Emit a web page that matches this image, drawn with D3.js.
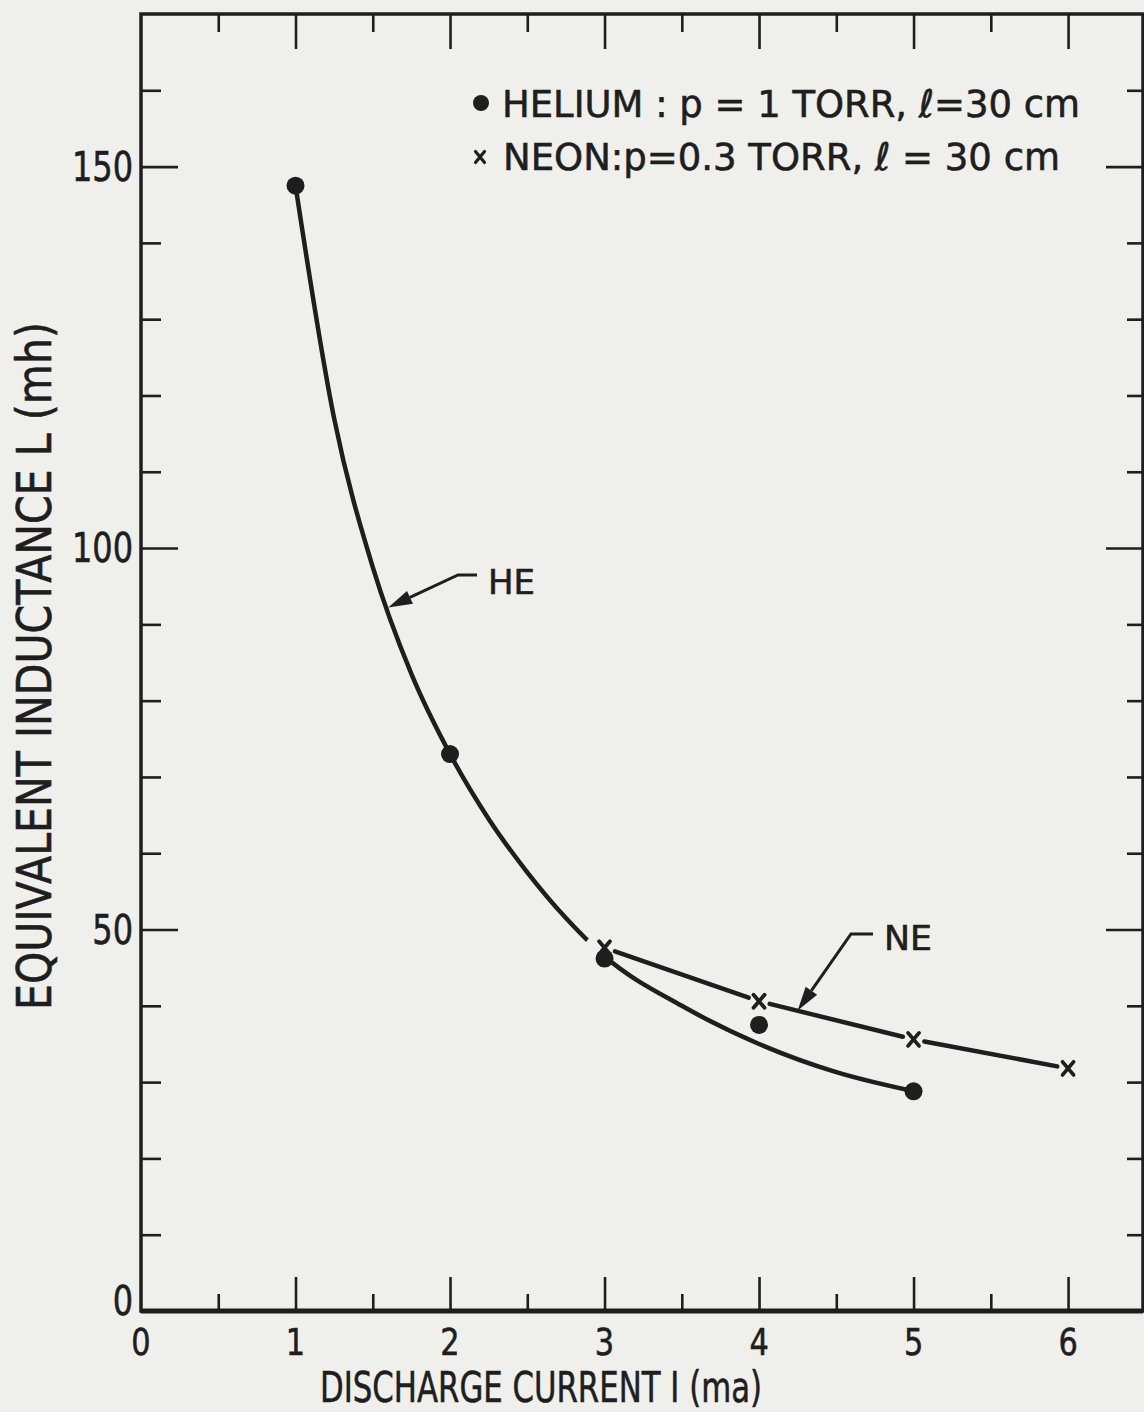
<!DOCTYPE html>
<html>
<head>
<meta charset="utf-8">
<script src="https://cdn.jsdelivr.net/npm/d3@7"></script>
<style>
  html, body { margin: 0; padding: 0; background: #efefec; }
  svg { display: block; }
  text { font-family: "DejaVu Sans", "Noto Sans", sans-serif; fill: #1e1e1e; stroke: #1e1e1e; stroke-width: 0.6px; }
</style>
</head>
<body>
<svg id="chart" width="1144" height="1412"></svg>
<script>
// ---- data -------------------------------------------------------------
const currentTicks = [0, 1, 2, 3, 4, 5, 6];
const currentTickLabels = ["0", "1", "2", "3", "4", "5", "6"];
const inductanceTicks = [0, 50, 100, 150];
const inductanceTickLabels = ["0", "50", "100", "150"];

// measured points (current in mA, inductance in mH)
const heliumCurrent = [1, 2, 3, 4, 5];
const heliumInductance = [147.5, 73, 46.2, 37.5, 28.8];
const neonCurrent = [3, 4, 5, 6];
const neonInductance = [47.6, 40.6, 35.6, 31.8];

// hand-faired helium curve
const heCurveCurrent = [1, 1.25, 1.5, 1.75, 2, 2.25, 2.5, 2.75, 3, 3.5, 4, 4.5, 5];
const heCurveInductance = [147.5, 117, 97.5, 83.5, 73, 64.5, 57.5, 51.5, 46.5, 40, 35, 31.3, 28.8];

// ---- setup ------------------------------------------------------------
const ink = "#1e1e1e";
const paper = "#efefec";
const svg = d3.select("#chart");

const x = d3.scaleLinear().domain([0, 6.485]).range([141, 1143]);
const y = d3.scaleLinear().domain([0, 170]).range([1311, 14]);

// ---- frame ------------------------------------------------------------
svg.append("rect")
  .attr("x", x(0)).attr("y", y(170))
  .attr("width", x(6.485) - x(0)).attr("height", y(0) - y(170))
  .attr("fill", "none").attr("stroke", ink).attr("stroke-width", 3.5);
svg.append("line")
  .attr("x1", x(0)).attr("x2", x(6.485)).attr("y1", y(0)).attr("y2", y(0))
  .attr("stroke", ink).attr("stroke-width", 5);

// ---- inward ticks on all four sides -----------------------------------
const majorX = d3.range(1, 6.01, 1);
const minorX = d3.range(0.5, 6.01, 1);
const majorY = d3.range(50, 151, 50);
const minorY = d3.range(10, 161, 10).filter(v => v % 50 !== 0);

function tickAxis(axis, transform, len, values) {
  const g = svg.append("g").attr("transform", transform)
    .call(axis.tickValues(values).tickSizeInner(len).tickSizeOuter(0).tickFormat(""));
  g.select(".domain").remove();
  g.selectAll(".tick line").attr("stroke", ink).attr("stroke-width", 2.6);
}
tickAxis(d3.axisBottom(x), `translate(0,${y(0)})`, -34, majorX);
tickAxis(d3.axisBottom(x), `translate(0,${y(0)})`, -17, minorX);
tickAxis(d3.axisTop(x), `translate(0,${y(170)})`, -35, majorX);
tickAxis(d3.axisTop(x), `translate(0,${y(170)})`, -18, minorX);
tickAxis(d3.axisLeft(y), `translate(${x(0)},0)`, -37, majorY);
tickAxis(d3.axisLeft(y), `translate(${x(0)},0)`, -20, minorY);
tickAxis(d3.axisRight(y), `translate(${x(6.485)},0)`, -37, majorY);
tickAxis(d3.axisRight(y), `translate(${x(6.485)},0)`, -16, minorY);

// ---- text helpers -----------------------------------------------------
function scaledText(str, px, py, size, sx, anchor) {
  return svg.append("text")
    .attr("transform", `translate(${px},${py}) scale(${sx},1)`)
    .attr("text-anchor", anchor).attr("font-size", size).text(str);
}
function fittedText(str, px, py, size, length) {
  return svg.append("text")
    .attr("x", px).attr("y", py).attr("font-size", size)
    .attr("textLength", length).attr("lengthAdjust", "spacingAndGlyphs")
    .text(str);
}

// tick labels
currentTicks.forEach((v, i) =>
  scaledText(currentTickLabels[i], x(v), y(0) + 44, 38, 0.8, "middle"));
inductanceTicks.forEach((v, i) =>
  scaledText(inductanceTickLabels[i], x(0) - 8, y(v) + 14 - (v === 0 ? 10 : 0), 40, 0.8, "end"));

// axis titles
fittedText("DISCHARGE CURRENT I (ma)", 320, 1402, 43, 442);
svg.append("text")
  .attr("transform", "translate(51,666) rotate(-90)")
  .attr("text-anchor", "middle").attr("font-size", 48)
  .attr("textLength", 688).attr("lengthAdjust", "spacingAndGlyphs")
  .text("EQUIVALENT INDUCTANCE L (mh)");

// ---- curves -----------------------------------------------------------
const heCurve = heCurveCurrent.map((c, i) => [x(c), y(heCurveInductance[i])]);
svg.append("path")
  .attr("d", d3.line().curve(d3.curveMonotoneX)(heCurve))
  .attr("fill", "none").attr("stroke", ink).attr("stroke-width", 4.5)
  .attr("stroke-linecap", "round");

// break in the helium curve where the two series meet
svg.append("circle")
  .attr("cx", x(2.97)).attr("cy", y(47.3)).attr("r", 16)
  .attr("fill", paper);

// neon: straight runs between points, stopped short of each marker
const gap = 11;
for (let i = 0; i < neonCurrent.length - 1; i++) {
  const x0 = x(neonCurrent[i]), y0 = y(neonInductance[i]);
  const x1 = x(neonCurrent[i + 1]), y1 = y(neonInductance[i + 1]);
  const d = Math.hypot(x1 - x0, y1 - y0), ux = (x1 - x0) / d, uy = (y1 - y0) / d;
  svg.append("line")
    .attr("x1", x0 + ux * gap).attr("y1", y0 + uy * gap)
    .attr("x2", x1 - ux * gap).attr("y2", y1 - uy * gap)
    .attr("stroke", ink).attr("stroke-width", 4.5).attr("stroke-linecap", "round");
}

// ---- markers ----------------------------------------------------------
function crossPath(cx, cy, w, h) {
  return `M${cx - w},${cy - h}L${cx + w},${cy + h}M${cx + w},${cy - h}L${cx - w},${cy + h}`;
}
svg.append("g").selectAll("circle")
  .data(heliumCurrent.map((c, i) => [c, heliumInductance[i]]))
  .join("circle")
  .attr("cx", d => x(d[0])).attr("cy", d => y(d[1])).attr("r", 9)
  .attr("fill", ink);
svg.append("g").selectAll("path")
  .data(neonCurrent.map((c, i) => [c, neonInductance[i]]))
  .join("path")
  .attr("d", d => crossPath(x(d[0]), y(d[1]), 5.5, 6.5))
  .attr("stroke", ink).attr("stroke-width", 3.8).attr("stroke-linecap", "round")
  .attr("fill", "none");

// ---- leaders with arrowheads ------------------------------------------
function leader(points, headLen, headHalf) {
  const n = points.length;
  const [tx, ty] = points[n - 1], [px, py] = points[n - 2];
  const dx = tx - px, dy = ty - py, d = Math.hypot(dx, dy), ux = dx / d, uy = dy / d;
  const bx = tx - ux * headLen, by = ty - uy * headLen;
  svg.append("path")
    .attr("d", d3.line()([...points.slice(0, n - 1), [bx, by]]))
    .attr("fill", "none").attr("stroke", ink).attr("stroke-width", 3);
  svg.append("path")
    .attr("d", `M${tx},${ty}L${bx - uy * headHalf},${by + ux * headHalf}L${bx + uy * headHalf},${by - ux * headHalf}Z`)
    .attr("fill", ink);
}
leader([[477, 575], [458, 575], [x(1.6), y(92.2)]], 24, 7);
fittedText("HE", 488, 594, 33, 47);

leader([[873, 934], [851, 934], [x(4.25), y(39.4)]], 24, 7);
fittedText("NE", 884, 950, 33, 48);

// ---- legend -----------------------------------------------------------
svg.append("circle").attr("cx", 481).attr("cy", 103).attr("r", 8).attr("fill", ink);
fittedText("HELIUM : p = 1  TORR, \u2113=30 cm", 502, 117, 38, 578);
svg.append("path").attr("d", crossPath(480, 157, 4.5, 5.5))
  .attr("stroke", ink).attr("stroke-width", 3.2).attr("stroke-linecap", "round");
fittedText("NEON:p=0.3 TORR, \u2113 = 30 cm", 503, 170, 38, 557);
</script>
</body>
</html>
